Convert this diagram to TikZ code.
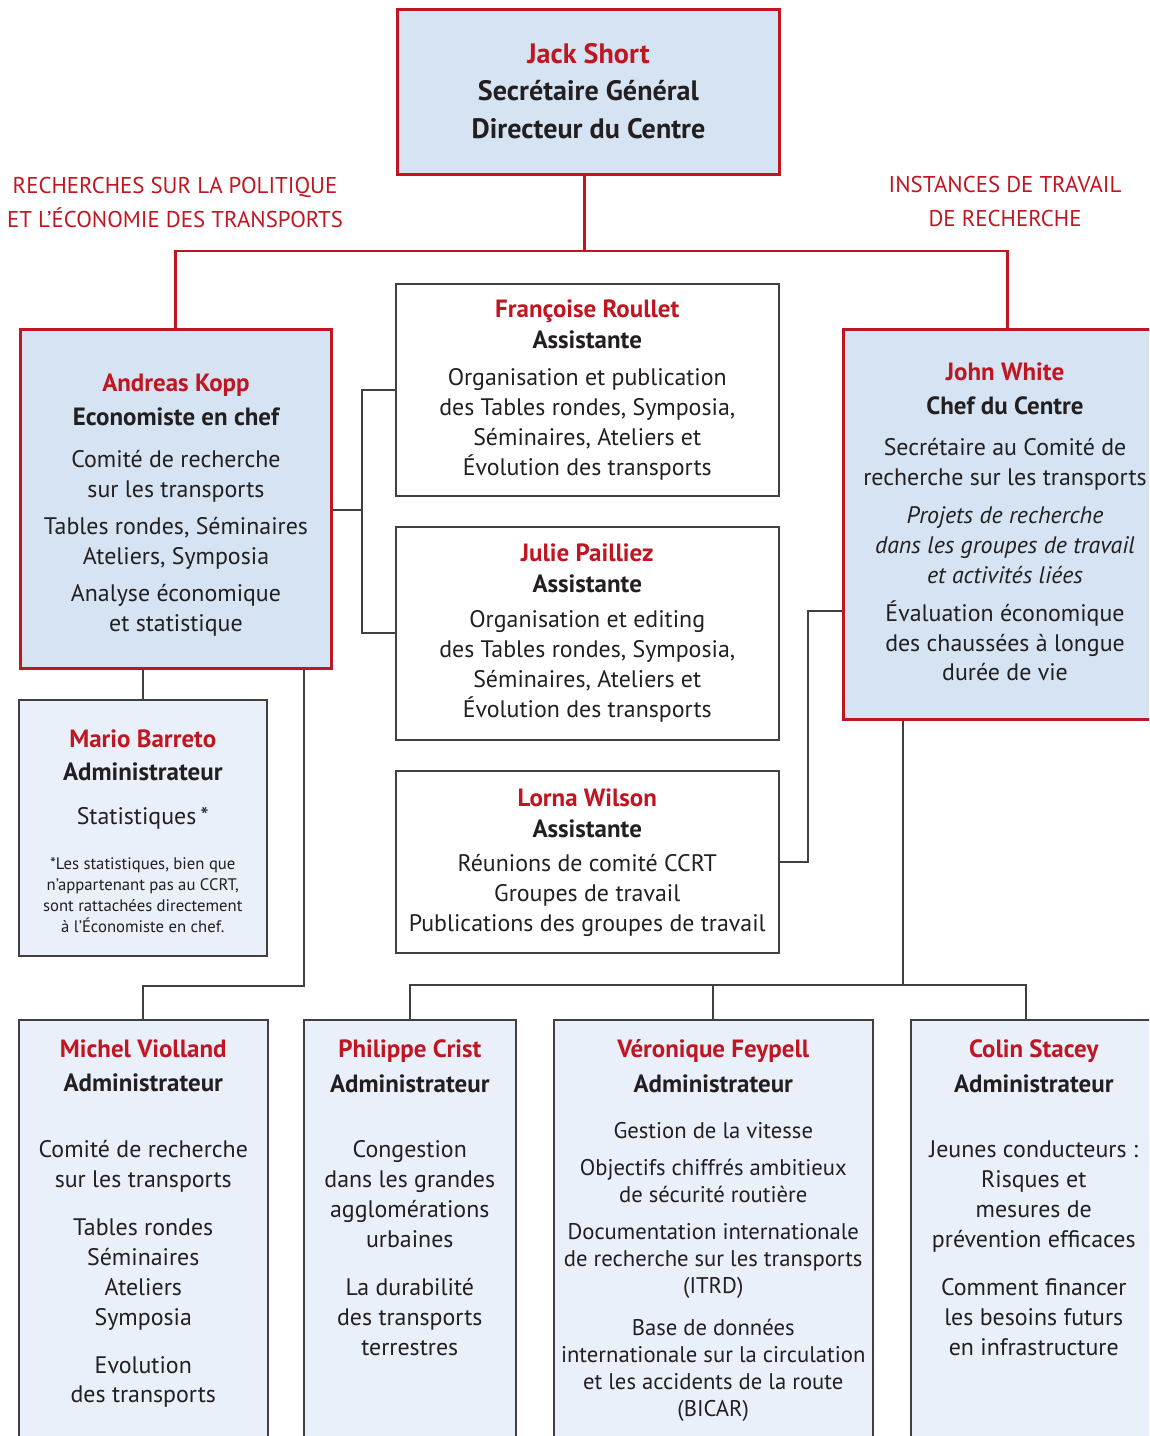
\documentclass[tikz,border=0pt]{standalone}
\usepackage{fontspec}
\setmainfont{PT Sans}
\usepackage{xcolor}
\usepackage{tikz}
\usetikzlibrary{positioning}
\definecolor{ocred}{RGB}{192,22,34}
\definecolor{ocblue}{RGB}{213,227,243}
\definecolor{ocpale}{RGB}{233,240,249}
\definecolor{ocgrey}{RGB}{64,64,64}
\definecolor{octext}{RGB}{35,31,32}
\newdimen\pix \pix=0.02cm
\newcommand{\pname}[1]{{\fontsize{14.2}{17}\selectfont\color{ocred}\bfseries #1}}
\newcommand{\prole}[1]{{\fontsize{14.2}{17}\selectfont\bfseries #1}}

\begin{document}
\begin{tikzpicture}[x=0.02cm, y=-0.02cm,
	redbox/.style={draw=ocred, line width=1.7pt, fill=ocblue, anchor=north west, inner sep=0},
	greybox/.style={draw=ocgrey, line width=0.9pt, fill=ocpale, anchor=north west, inner sep=0},
	plainbox/.style={draw=ocgrey, line width=0.9pt, fill=white, anchor=north west, inner sep=0},
	redline/.style={draw=ocred, line width=1.7pt},
	greyline/.style={draw=ocgrey, line width=0.9pt},
	lbl/.style={anchor=north, inner sep=0, align=center, text=octext, font=\fontsize{13.6}{17}\selectfont},
	head/.style={anchor=north, inner sep=0, align=center, text=ocred, font=\fontsize{13}{19.4}\selectfont}]
	
	\clip (0,0) rectangle (1149,1436);
	\useasboundingbox (0,0) rectangle (1149,1436);
	
	% boxes
	\node[redbox, minimum width=7.64cm, minimum height=3.30cm] (jack) at (396,8) {};
	\node[redbox, minimum width=6.22cm, minimum height=6.78cm] (kopp) at (19,328) {};
	\node[redbox, minimum width=6.56cm, minimum height=7.80cm] (white) at (842,328) {};
	\node[plainbox, minimum width=7.66cm, minimum height=4.24cm] (roullet) at (395,283) {};
	\node[plainbox, minimum width=7.66cm, minimum height=4.26cm] (pailliez) at (395,526) {};
	\node[plainbox, minimum width=7.66cm, minimum height=3.64cm] (wilson) at (395,770) {};
	\node[greybox, minimum width=4.96cm, minimum height=5.12cm] (barreto) at (18,699) {};
	\node[greybox, minimum width=4.98cm, minimum height=9.00cm] (violland) at (18,1019) {};
	\node[greybox, minimum width=4.24cm, minimum height=9.00cm] (crist) at (303,1019) {};
	\node[greybox, minimum width=6.38cm, minimum height=9.00cm] (feypell) at (553,1019) {};
	\node[greybox, minimum width=5.20cm, minimum height=9.00cm] (stacey) at (910,1019) {};
	
	% headings
	\node[head] (headL) at (175,177) {RECHERCHES SUR LA POLITIQUE\\ ET L’ÉCONOMIE DES TRANSPORTS};
	\node[head] (headR) at (1005,176) {INSTANCES DE TRAVAIL\\ DE RECHERCHE};
	
	% texts
	\node[lbl, below=0.70cm of jack.north, font=\fontsize{16}{21.3}\selectfont\bfseries] (jackT)
		{{\color{ocred}Jack Short}\\ Secrétaire Général\\ Directeur du Centre};
	\node[lbl, below=0.92cm of kopp.north] (koppT)
		{\pname{Andreas Kopp}\\[4\pix] \prole{Economiste en chef}\\[12\pix]
		Comité de recherche\\ sur les transports\\[7\pix]
		Tables rondes, Séminaires\\ Ateliers, Symposia\\[7\pix]
		Analyse économique\\ et statistique};
	\node[lbl, below=0.32cm of roullet.north] (roulletT)
		{\pname{Françoise Roullet}\\[2\pix] \prole{Assistante}\\[7\pix]
		Organisation et publication\\ des Tables rondes, Symposia,\\ Séminaires, Ateliers et\\ Évolution des transports};
	\node[lbl, below=0.34cm of pailliez.north] (pailliezT)
		{\pname{Julie Pailliez}\\[2\pix] \prole{Assistante}\\[5\pix]
		Organisation et editing\\ des Tables rondes, Symposia,\\ Séminaires, Ateliers et\\ Évolution des transports};
	\node[lbl, below=0.36cm of wilson.north] (wilsonT)
		{\pname{Lorna Wilson}\\[2\pix] \prole{Assistante}\\[4\pix]
		Réunions de comité CCRT\\ Groupes de travail\\ Publications des groupes de travail};
	\node[lbl, anchor=north] (whiteT) at (1005,362)
		{\pname{John White}\\[5\pix] \prole{Chef du Centre}\\[11\pix]
		Secrétaire au Comité de\\ recherche sur les transports\\[8\pix]
		\textit{Projets de recherche}\\ \textit{dans les groupes de travail}\\ \textit{et activités liées}\\[8\pix]
		Évaluation économique\\ des chaussées à longue\\ durée de vie};
	\node[lbl, below=0.60cm of barreto.north] (barretoT)
		{\pname{Mario Barreto}\\[4\pix] \prole{Administrateur}\\[14\pix] Statistiques\,*};
	\node[lbl, below=3.16cm of barreto.north, font=\fontsize{9.5}{11.95}\selectfont] (barretoN)
		{*Les statistiques, bien que\\ n’appartenant pas au CCRT,\\ sont rattachées directement\\ à l’Économiste en chef.};
	\node[lbl, below=0.40cm of violland.north] (violT)
		{\pname{Michel Violland}\\[5\pix] \prole{Administrateur}\\[36\pix]
		Comité de recherche\\ sur les transports\\[18\pix]
		Tables rondes\\ Séminaires\\ Ateliers\\ Symposia\\[18\pix]
		Evolution\\ des transports};
	\node[lbl, below=0.40cm of crist.north] (cristT)
		{\pname{Philippe Crist}\\[5\pix] \prole{Administrateur}\\[36\pix]
		Congestion\\ dans les grandes\\ agglomérations\\ urbaines\\[18\pix]
		La durabilité\\ des transports\\ terrestres};
	\node[lbl, below=0.40cm of feypell.north, font=\fontsize{12.9}{15.4}\selectfont] (feypellT)
		{\pname{Véronique Feypell}\\[8\pix] \prole{Administrateur}\\[19\pix]
		Gestion de la vitesse\\[10\pix]
		Objectifs chiffrés ambitieux\\ de sécurité routière\\[10\pix]
		Documentation internationale\\ de recherche sur les transports\\ (ITRD)\\[15\pix]
		Base de données\\ internationale sur la circulation\\ et les accidents de la route\\ (BICAR)};
	\node[lbl, below=0.40cm of stacey.north, xshift=-0.14cm] (staceyT)
		{\pname{Colin Stacey}\\[5\pix] \prole{Administrateur}\\[36\pix]
		Jeunes conducteurs :\\ Risques et\\ mesures de\\ prévention efficaces\\[18\pix]
		Comment financer\\ les besoins futurs\\ en infrastructure};
	
	% connectors
	\coordinate (topbus) at (584,251);
	\draw[redline] (jack.south -| topbus) -- (topbus);
	\draw[redline] (kopp.north) |- (topbus) -| (white.north);
	
	\coordinate (brk) at (362,510);
	\draw[greyline] (kopp.east |- brk) -- (brk);
	\draw[greyline] (roullet.west) -| (brk) |- (pailliez.west);
	
	\coordinate (welb) at (808,611);
	\draw[greyline] (white.west |- welb) -- (welb) |- (wilson.east);
	
	\draw[greyline] (barreto.north) -- (barreto.north |- kopp.south);
	\coordinate (vbus) at (304,986);
	\draw[greyline] (kopp.south -| vbus) -- (vbus) -| (violland.north);
	
	\coordinate (bbus) at (903,985);
	\coordinate (sdrop) at (1026,1019);
	\draw[greyline] (white.south -| bbus) -- (bbus);
	\draw[greyline] (crist.north) |- (bbus) -| (sdrop);
	\draw[greyline] (feypell.north) -- (feypell.north |- bbus);
	
\end{tikzpicture}
\end{document}
